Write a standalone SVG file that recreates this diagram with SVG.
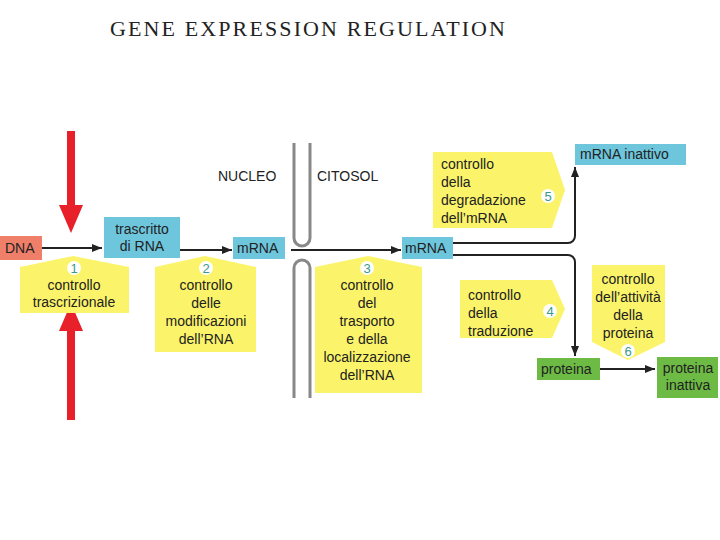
<svg xmlns="http://www.w3.org/2000/svg" width="720" height="540" viewBox="0 0 720 540">
<style>
text{font-family:"Liberation Sans",Arial,sans-serif;font-size:14px;fill:#222}
.c{text-anchor:middle}
.y{fill:#fbf46a}
.b{fill:#6ec6dc}
.g{fill:#6dbb45}
.n{fill:#3a9a8a;font-size:13px}
.ln{stroke:#222;stroke-width:2;fill:none}
.m{stroke:#888;stroke-width:3;fill:none}
</style>
<defs><marker id="a" viewBox="0 0 10 10" refX="10" refY="5" markerWidth="5" markerHeight="5" orient="auto"><path d="M0,1L10,5L0,9z" fill="#222"/></marker></defs>
<text x="110" y="36" style="font-family:'Liberation Serif',serif;font-size:22px" textLength="395">GENE EXPRESSION REGULATION</text>
<g id="membrane">
<path class="m" d="M294,143V238a8,8 0 0 0 16,0V143"/>
<path class="m" d="M294,398V268a8,8 0 0 1 16,0V398"/>
<text x="218" y="181">NUCLEO</text><text x="317" y="181">CITOSOL</text>
</g>
<g id="connectors">
<path class="ln" d="M42,248H102" marker-end="url(#a)"/>
<path class="ln" d="M180,250H232" marker-end="url(#a)"/>
<path class="ln" d="M291,250H401" marker-end="url(#a)"/>
<path class="ln" d="M453,243H568a7,7 0 0 0 7,-7V167" marker-end="url(#a)"/>
<path class="ln" d="M453,255H568a7,7 0 0 1 7,7V356" marker-end="url(#a)"/>
<path class="ln" d="M600,369H655" marker-end="url(#a)"/>
</g>
<g id="redarrows" fill="#e8202a">
<path d="M67,131H75V205H83L71,233L59,205H67z"/>
<path d="M67,420H75V331H83L71,303L59,331H67z"/>
</g>
<g id="dna"><rect x="0" y="236" width="42" height="24" fill="#f07f6a"/><text x="5" y="253">DNA</text></g>
<g id="trascritto"><rect class="b" x="104" y="217" width="76" height="41"/><text class="c" x="142" y="234">trascritto</text><text class="c" x="142" y="251">di RNA</text></g>
<g id="mrna1"><rect class="b" x="233" y="237" width="52" height="22"/><text x="237" y="253">mRNA</text></g>
<g id="mrna2"><rect class="b" x="402" y="237" width="51" height="22"/><text x="405" y="253">mRNA</text></g>
<g id="inattivo"><rect class="b" x="575" y="144" width="111" height="21"/><text x="580" y="159">mRNA inattivo</text></g>
<g id="proteina"><rect class="g" x="537" y="358" width="63" height="22"/><text x="541" y="374">proteina</text></g>
<g id="proteinainattiva"><rect class="g" x="657" y="357" width="61" height="41"/><text class="c" x="688" y="373">proteina</text><text class="c" x="688" y="390">inattiva</text></g>
<g id="c1"><path class="y" d="M20,267L73,256L129,267V313H20z"/><circle cx="74" cy="268" r="7" fill="#fff"/><text class="c n" x="74" y="273">1</text><text class="c" x="74" y="290">controllo</text><text class="c" x="74" y="307">trascrizionale</text></g>
<g id="c2"><path class="y" d="M155,267L205,256L256,267V352H155z"/><circle cx="206" cy="268" r="7" fill="#fff"/><text class="c n" x="206" y="273">2</text><text class="c" x="206" y="290">controllo</text><text class="c" x="206" y="308">delle</text><text class="c" x="206" y="326">modificazioni</text><text class="c" x="206" y="344">dell’RNA</text></g>
<g id="c3"><path class="y" d="M315,267L368,256L422,267V393H315z"/><circle cx="367" cy="268" r="7" fill="#fff"/><text class="c n" x="367" y="273">3</text><text class="c" x="367" y="290">controllo</text><text class="c" x="367" y="308">del</text><text class="c" x="367" y="326">trasporto</text><text class="c" x="367" y="344">e della</text><text class="c" x="367" y="362">localizzazione</text><text class="c" x="367" y="380">dell’RNA</text></g>
<g id="c5"><path class="y" d="M433,152H552L565,190L552,228H433z"/><circle cx="548" cy="196" r="7" fill="#fff"/><text class="c n" x="548" y="201">5</text><text x="441" y="169">controllo</text><text x="441" y="187">della</text><text x="441" y="205">degradazione</text><text x="441" y="223">dell’mRNA</text></g>
<g id="c4"><path class="y" d="M460,280H552L565,309L552,338H460z"/><circle cx="550" cy="311" r="7" fill="#fff"/><text class="c n" x="550" y="316">4</text><text x="468" y="300">controllo</text><text x="468" y="318">della</text><text x="468" y="336">traduzione</text></g>
<g id="c6"><path class="y" d="M592,265H665V342L628,360L592,342z"/><circle cx="628" cy="351" r="7" fill="#fff"/><text class="c n" x="628" y="356">6</text><text class="c" x="628" y="284">controllo</text><text class="c" x="628" y="302">dell’attività</text><text class="c" x="628" y="320">della</text><text class="c" x="628" y="338">proteina</text></g>
</svg>
